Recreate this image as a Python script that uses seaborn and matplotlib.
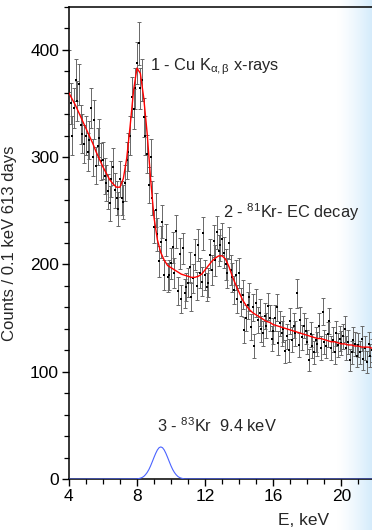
import numpy as np
import pandas as pd
import matplotlib
matplotlib.use("Agg")
import matplotlib.pyplot as plt
from matplotlib.ticker import MultipleLocator
import seaborn as sns

# spectrum: 0.1 keV bins from 4.0 to 21.8 keV
e_start, e_step = 4.0, 0.1
counts = [
    380, 350, 320, 346, 372, 352, 368, 330, 322, 312,
    320, 305, 316, 346, 300, 335, 292, 310, 318, 296,
    297, 282, 276, 268, 257, 280, 291, 269, 262, 252,
    280, 262, 258, 276, 297, 305, 320, 356, 345, 364,
    388, 406, 364, 372, 337, 320, 303, 274, 300, 262,
    235, 251, 228, 203, 221, 240, 190, 223, 188, 190,
    201, 216, 192, 231, 175, 210, 168, 215, 173, 179,
    183, 198, 170, 187, 209, 180, 218, 192, 184, 229,
    190, 179, 183, 209, 195, 222, 204, 230, 213, 218,
    224, 211, 200, 192, 220, 195, 188, 176, 190, 168,
    192, 165, 172, 139, 150, 162, 170, 142, 160, 124,
    164, 148, 155, 140, 136, 152, 143, 161, 150, 131,
    138, 150, 160, 127, 145, 136, 140, 119, 133, 120,
    147, 130, 143, 136, 173, 125, 148, 132, 143, 138,
    128, 111, 135, 124, 118, 130, 126, 143, 122, 156,
    128, 124, 135, 147, 122, 130, 118, 136, 125, 131,
    127, 133, 140, 122, 128, 111, 118, 130, 126, 115,
    125, 118, 131, 112, 122, 109, 126, 115, 120,
]

# fit curve, 0.2 keV steps from 4.0 to 21.8
fit_step = 0.2
fit_vals = [
    360, 354, 348, 341, 334, 327, 320, 313, 305, 298,
    291, 285, 279, 275, 272, 272, 280, 299, 329, 362,
    383, 378, 355, 322, 280, 244, 223, 211, 204, 199,
    197, 195, 193, 191, 190, 189, 188, 188, 189, 191,
    195, 199, 203, 206, 208, 208, 205, 198, 189, 181,
    174, 167, 162, 158, 155, 153, 151, 149, 147, 146,
    144, 143, 142, 141, 140, 139, 138, 137, 136, 135,
    134, 133, 132, 131, 131, 130, 129, 128, 128, 127,
    126, 126, 125, 125, 124, 124, 123, 123, 123, 122,
]

# 83Kr 9.4 keV line
kr_e = [4.0, 8.0, 8.1, 8.2, 8.3, 8.4, 8.5, 8.6, 8.7, 8.8, 8.9, 9.0, 9.1, 9.2, 9.3,
        9.4, 9.5, 9.6, 9.7, 9.8, 9.9, 10.0, 10.1, 10.2, 10.3, 10.4, 10.5, 10.6,
        10.7, 10.8, 21.8]
kr_vals = [0, 0.2, 0.5, 0.9, 1.5, 2.5, 4.1, 6.2, 8.9, 12.3, 16.2, 20.2, 24.0, 27.2, 29.3,
           30.0, 29.3, 27.2, 24.0, 20.2, 16.2, 12.3, 8.9, 6.2, 4.1, 2.5, 1.5, 0.9,
           0.5, 0.2, 0]

energy = np.round(e_start + e_step * np.arange(len(counts)), 1)
fit_e = np.round(e_start + fit_step * np.arange(len(fit_vals)), 1)
df = pd.DataFrame({"E": energy, "counts": counts})
df["err"] = np.sqrt(df["counts"])

sns.set_style("ticks")
plt.rcParams["font.family"] = ["Liberation Sans", "DejaVu Sans"]
plt.rcParams["mathtext.fontset"] = "custom"
plt.rcParams["mathtext.rm"] = "Liberation Sans"
plt.rcParams["mathtext.it"] = "Liberation Sans"

fig = plt.figure(figsize=(3.72, 5.30), dpi=100)

# light blue fade on the right edge
bg = fig.add_axes([0.905, 0.0, 0.095, 1.0], zorder=0)
grad = np.linspace(0, 1, 100)[None, :] ** 1.3
bg.imshow(grad, aspect="auto", cmap=matplotlib.colors.LinearSegmentedColormap.from_list(
    "fade", ["#ffffff", "#d3ebfb"]), extent=[0, 1, 0, 1])
bg.axis("off")

ax = fig.add_axes([0.185, 0.096, 0.815, 0.891], zorder=1)
ax.patch.set_alpha(0)

ax.errorbar(df["E"], df["counts"], yerr=df["err"], fmt="none", ecolor="#686868",
            elinewidth=0.7, capsize=1.3, capthick=0.7, zorder=2)
sns.scatterplot(data=df, x="E", y="counts", marker="s", s=4.5, color="black",
                edgecolor="black", linewidth=0, ax=ax, zorder=3)
sns.lineplot(x=fit_e, y=fit_vals, color="red", lw=1.0, ax=ax, zorder=4)
sns.lineplot(x=kr_e, y=kr_vals, color="#4a63ff", lw=0.8, ax=ax, zorder=4)

ax.set_xlim(4, 21.8)
ax.set_ylim(0, 440)
ax.set_xticks([4, 8, 12, 16, 20])
ax.xaxis.set_minor_locator(MultipleLocator(1))
ax.set_yticks([0, 100, 200, 300, 400])
ax.yaxis.set_minor_locator(MultipleLocator(20))
ax.tick_params(which="major", direction="out", length=5, width=1, labelsize=12.5,
               colors="black", pad=2)
ax.tick_params(which="minor", direction="out", length=3.5, width=0.9, color="black")
for s in ["left", "bottom", "top"]:
    ax.spines[s].set_linewidth(1.1)
    ax.spines[s].set_color("black")
ax.spines["right"].set_visible(False)

ax.set_xlabel("E, keV", fontsize=12.5)
ax.xaxis.set_label_coords(0.775, -0.071)
ax.set_ylabel("Counts / 0.1 keV 613 days", fontsize=12)
ax.yaxis.set_label_coords(-0.17, 0.5)

ax.text(8.75, 384, r"1 - Cu K$_{\mathrm{α,β}}$ x-rays", fontsize=11.8, va="center")
ax.text(13.05, 249, r"2 - $^{81}$Kr- EC decay", fontsize=11.8, va="center")
ax.text(9.2, 50, r"3 - $^{83}$Kr  9.4 keV", fontsize=11.8, va="center")

fig.savefig("out.png", dpi=100)
